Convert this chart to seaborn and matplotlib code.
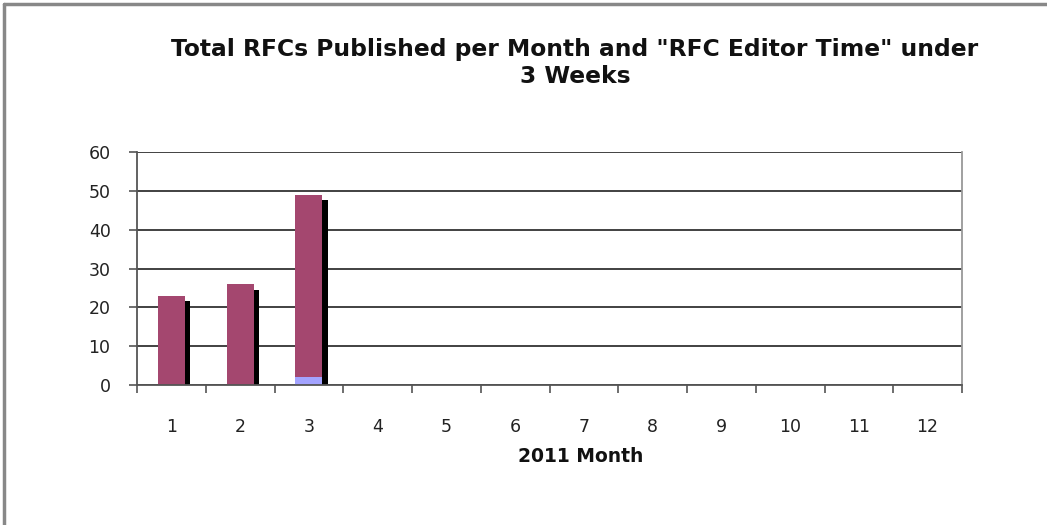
import matplotlib
matplotlib.use("Agg")
import matplotlib.pyplot as plt
import matplotlib.patheffects as pe
from matplotlib.lines import Line2D
import seaborn as sns
import pandas as pd

months = [str(m) for m in range(1, 13)]
data_months = ["1", "2", "3"]
total_published = [23, 26, 49]
under_3_weeks = [0, 0, 2]

title = 'Total RFCs Published per Month and "RFC Editor Time" under\n3 Weeks'

df = pd.DataFrame({"month": data_months, "total": total_published, "under3": under_3_weeks})

sns.set_theme(style="white")
plt.rcParams["font.family"] = ["DejaVu Sans"]

fig = plt.figure(figsize=(10.47, 5.25), dpi=100)
ax = fig.add_axes([137 / 1047, 140 / 525, 825 / 1047, 233 / 525])

# totals with a black drop shadow, then the "under 3 weeks" part stacked at the bottom
sns.barplot(data=df, x="month", y="total", order=months, color="#A4476F",
            saturation=1, width=0.39, linewidth=0, ax=ax)
for p in ax.patches:
    p.set_path_effects([pe.SimplePatchShadow(offset=(4, -4), shadow_rgbFace="black", alpha=1),
                        pe.Normal()])
sns.barplot(data=df, x="month", y="under3", order=months, color="#A3A3FF",
            saturation=1, width=0.39, linewidth=0, ax=ax)

ax.set_ylim(0, 60)
ax.set_xlim(-0.5, 11.5)
ax.set_yticks(range(0, 61, 10))
ax.yaxis.grid(True, color="#333333", linewidth=1.3)
ax.set_axisbelow(True)
ax.set_ylabel("")
ax.set_xlabel("2011 Month", fontsize=13.5, fontweight="bold", color="#111111")
ax.xaxis.set_label_coords((581 - 137) / 825, (385 - 456) / 233)
ax.xaxis.label.set_va("center")

ax.set_xticks(range(12))
ax.set_xticklabels(months)
ax.set_xticks([i + 0.5 for i in range(-1, 12)], minor=True)
ax.tick_params(axis="x", which="major", length=0, pad=24, labelsize=12.5, colors="#222222")
ax.tick_params(axis="x", which="minor", length=6, width=1.2, color="#555555", direction="out",
               bottom=True)
ax.tick_params(axis="y", length=6, width=1.2, color="#555555", direction="out", pad=13,
               labelsize=12.5, left=True, labelcolor="#222222")

for side in ["left", "bottom"]:
    ax.spines[side].set_color("#555555")
    ax.spines[side].set_linewidth(1.3)
ax.spines["right"].set_color("#999999")
ax.spines["right"].set_linewidth(1.3)
ax.spines["top"].set_visible(False)

fig.text(575 / 1047, 1 - 63 / 525, title, ha="center", va="center", fontsize=16.8,
         fontweight="bold", linespacing=1.25, color="#111111")

fig.add_artist(Line2D([4 / 1047, 4 / 1047], [0, 1 - 4 / 525], transform=fig.transFigure,
                      color="#888888", linewidth=2.5))
fig.add_artist(Line2D([4 / 1047, 1], [1 - 4 / 525, 1 - 4 / 525], transform=fig.transFigure,
                      color="#888888", linewidth=2.5))

fig.savefig("out.png", dpi=100)
